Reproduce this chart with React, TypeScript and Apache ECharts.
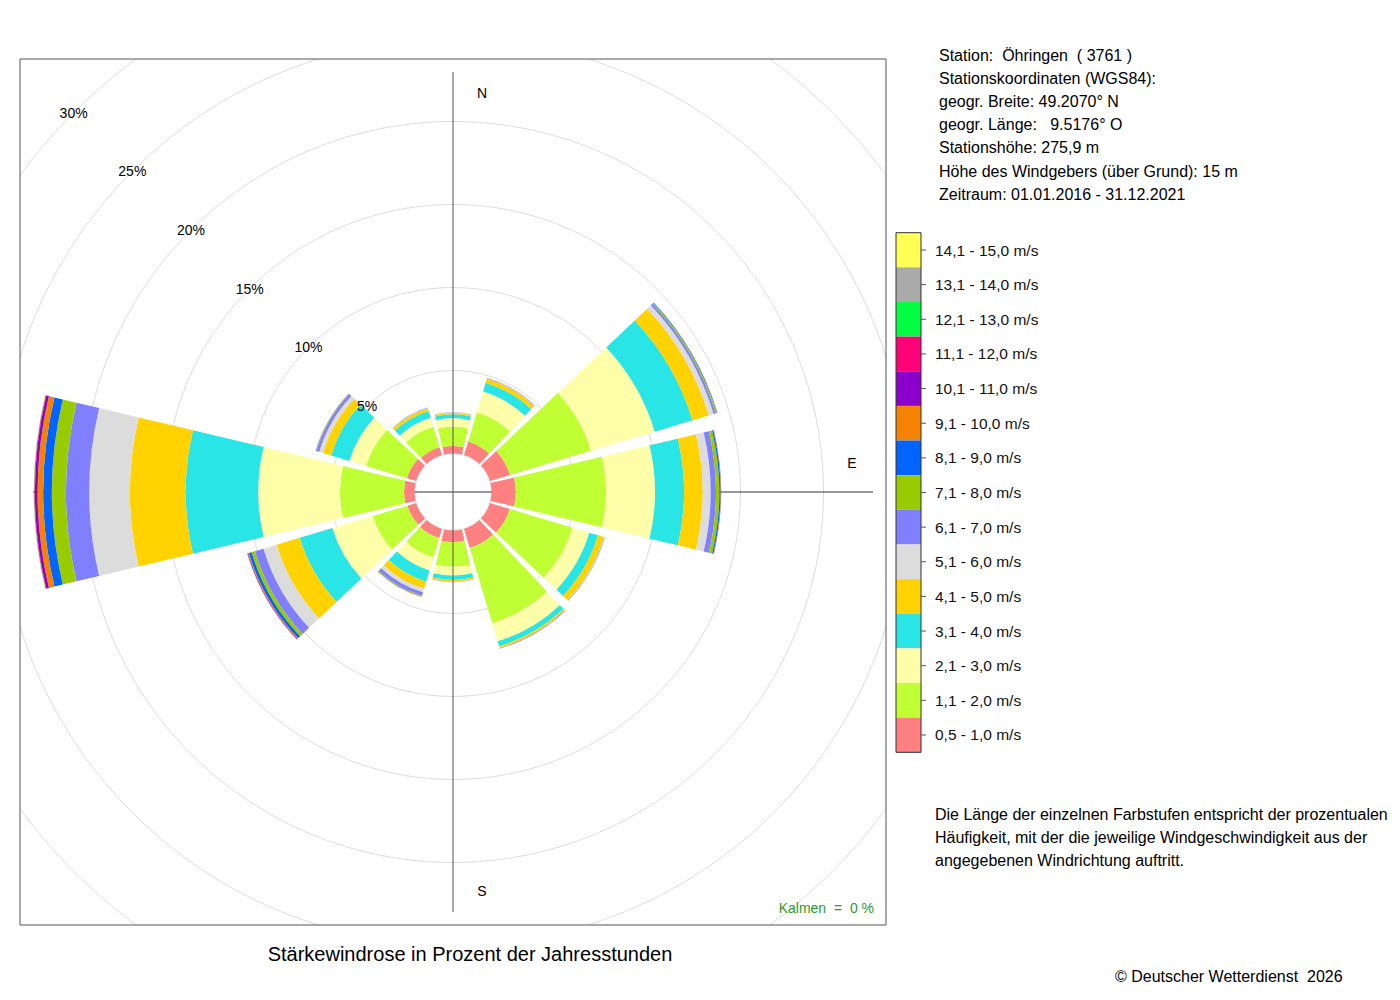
import React, { useEffect, useRef } from "react";
import * as echarts from "echarts";

// ---------- data ----------
const directions = ["N", "30°", "60°", "E", "120°", "150°", "S", "210°", "240°", "W", "300°", "330°"];

const speedClasses = [
  "0,5 - 1,0 m/s",
  "1,1 - 2,0 m/s",
  "2,1 - 3,0 m/s",
  "3,1 - 4,0 m/s",
  "4,1 - 5,0 m/s",
  "5,1 - 6,0 m/s",
  "6,1 - 7,0 m/s",
  "7,1 - 8,0 m/s",
  "8,1 - 9,0 m/s",
  "9,1 - 10,0 m/s",
  "10,1 - 11,0 m/s",
  "11,1 - 12,0 m/s",
  "12,1 - 13,0 m/s",
  "13,1 - 14,0 m/s",
  "14,1 - 15,0 m/s",
];

const classColors = [
  "#FF8080", "#BFFF33", "#FFFFAA", "#2AE5E5", "#FFD200",
  "#DCDCDC", "#8080FF", "#99CC00", "#0064FF", "#F58200",
  "#8C00CC", "#FF0078", "#00FF40", "#AAAAAA", "#FFFF55",
];

// percent of annual hours per direction (N, 30, 60, E, 120, 150, S, 210, 240, W, 300, 330)
const v05_10 = [0.45, 0.86, 1.27, 1.46, 1.25, 1.2, 0.7, 0.58, 0.55, 0.63, 0.58, 0.5];
const v11_20 = [1.17, 1.84, 5.09, 5.44, 3.95, 4.73, 1.48, 1.22, 2.18, 3.86, 2.57, 1.3];
const v21_30 = [0.51, 1.3, 4.01, 2.95, 1.05, 1.13, 0.53, 0.81, 2.54, 4.92, 1.05, 0.55];
const v31_40 = [0.23, 0.55, 2.37, 1.75, 0.55, 0.32, 0.27, 0.71, 2.05, 4.37, 1.15, 0.43];
const v41_50 = [0.1, 0.25, 1.03, 1.12, 0.36, 0.11, 0.1, 0.45, 1.45, 3.36, 0.51, 0.17];
const v51_60 = [0.01, 0.02, 0.3, 0.48, 0.03, 0.01, 0.02, 0.22, 0.83, 2.45, 0.24, 0.02];
const v61_70 = [0.01, 0.03, 0.13, 0.32, 0.03, 0.03, 0.02, 0.21, 0.54, 1.4, 0.16, 0.02];
const v71_80 = [0, 0.01, 0.07, 0.2, 0.01, 0, 0, 0.05, 0.21, 0.85, 0.03, 0];
const v81_90 = [0, 0, 0.03, 0.08, 0, 0, 0, 0.02, 0.17, 0.52, 0.02, 0];
const v91_100 = [0, 0, 0.01, 0.02, 0, 0, 0, 0.01, 0.05, 0.34, 0.01, 0];
const v101_110 = [0, 0, 0, 0.01, 0, 0, 0, 0, 0.03, 0.16, 0, 0];
const v111_120 = [0, 0, 0, 0, 0, 0, 0, 0, 0.02, 0.04, 0, 0];
const v121_130 = [0, 0, 0, 0, 0, 0, 0, 0, 0.01, 0.02, 0, 0];
const v131_140 = [0, 0, 0, 0, 0, 0, 0, 0, 0, 0.01, 0, 0];
const v141_150 = [0, 0, 0, 0, 0, 0, 0, 0, 0, 0.01, 0, 0];

const classValues = [
  v05_10, v11_20, v21_30, v31_40, v41_50, v51_60, v61_70, v71_80,
  v81_90, v91_100, v101_110, v111_120, v121_130, v131_140, v141_150,
];

const radiusMax = 30;
const radiusStep = 5;

const compassLabels = ["N", "E", "S"];
const calmText = "Kalmen  =  0 %";
const chartTitle = "Stärkewindrose in Prozent der Jahresstunden";
const infoLines = [
  "Station:  Öhringen  ( 3761 )",
  "Stationskoordinaten (WGS84):",
  "geogr. Breite: 49.2070° N",
  "geogr. Länge:   9.5176° O",
  "Stationshöhe: 275,9 m",
  "Höhe des Windgebers (über Grund): 15 m",
  "Zeitraum: 01.01.2016 - 31.12.2021",
];
const noteLines = [
  "Die Länge der einzelnen Farbstufen entspricht der prozentualen",
  "Häufigkeit, mit der die jeweilige Windgeschwindigkeit aus der",
  "angegebenen Windrichtung auftritt.",
];
const copyrightText = "© Deutscher Wetterdienst  2026";

// ---------- layout ----------
const FONT = '"Liberation Sans", Arial, Helvetica, sans-serif';
const CX = 453;
const CY = 492;
const R0 = 38.5;
const R1 = 536.5;
const AXIS_LEN = 420;
const FRAME = { x: 20, y: 59, w: 866, h: 866 };
const LEG = { x: 896, y: 232.7, w: 25, h: 34.64 };

export default function App() {
  const ref = useRef<HTMLDivElement | null>(null);

  useEffect(() => {
    if (!ref.current) return;
    const chart = echarts.init(ref.current, undefined, { renderer: "svg" });

    const series = speedClasses.map((name, i) => ({
      name,
      type: "bar",
      coordinateSystem: "polar",
      polarIndex: 0,
      stack: "total",
      data: classValues[i],
      barCategoryGap: "11%",
      itemStyle: { color: classColors[i], borderWidth: 0 },
      emphasis: { disabled: true },
      silent: true,
      z: 2,
    }));

    const hidden = {
      axisLine: { show: false },
      axisTick: { show: false },
      axisLabel: { show: false },
      splitLine: { show: false },
      splitArea: { show: false },
    };

    const nClasses = speedClasses.length;
    const legendOutline = {
      type: "rect",
      z: 12,
      shape: { x: LEG.x, y: LEG.y, width: LEG.w, height: LEG.h * nClasses },
      style: { fill: "none", stroke: "#333", lineWidth: 1 },
    };
    const legendTicks = speedClasses.map((_, i) => ({
      type: "line",
      z: 12,
      shape: {
        x1: LEG.x + LEG.w,
        y1: LEG.y + LEG.h * (i + 0.5),
        x2: LEG.x + LEG.w + 5,
        y2: LEG.y + LEG.h * (i + 0.5),
      },
      style: { stroke: "#555", lineWidth: 1 },
    }));

    const compassPos = [
      { x: CX + 29, y: CY - AXIS_LEN + 21 },
      { x: CX + AXIS_LEN - 21, y: CY - 29 },
      { x: CX + 29, y: CY + AXIS_LEN - 21 },
    ];

    const mask = (x: number, y: number, w: number, h: number) => ({
      type: "rect",
      z: 5,
      silent: true,
      shape: { x, y, width: w, height: h },
      style: { fill: "#fff" },
    });

    const text = (t: string, x: number, y: number, size: number, extra: any = {}) => ({
      type: "text",
      z: 12,
      silent: true,
      style: {
        text: t,
        x,
        y,
        fill: "#000",
        fontSize: size,
        fontFamily: FONT,
        align: "left",
        verticalAlign: "middle",
        ...extra,
      },
    });

    const option: any = {
      animation: false,
      backgroundColor: "#fff",
      polar: [
        { center: [CX, CY], radius: [R0, R1] },
        { center: [CX, CY], radius: [R0, R1] },
        { center: [CX, CY], radius: [0, AXIS_LEN] },
        { center: [CX, CY], radius: [0, AXIS_LEN] },
        { center: [CX, CY], radius: [R0, R1] },
      ],
      angleAxis: [
        {
          polarIndex: 0,
          type: "category",
          data: directions,
          startAngle: 105,
          clockwise: true,
          boundaryGap: true,
          ...hidden,
        },
        {
          polarIndex: 1,
          type: "value",
          min: 0,
          max: 360,
          startAngle: 135,
          ...hidden,
        },
        {
          polarIndex: 2,
          type: "value",
          min: 0,
          max: 360,
          interval: 180,
          startAngle: 0,
          z: 0,
          axisLine: { show: false },
          axisTick: { show: false },
          axisLabel: { show: false },
          splitLine: { show: true, lineStyle: { color: "#333", width: 1 } },
        },
        {
          polarIndex: 3,
          type: "value",
          min: 0,
          max: 360,
          interval: 180,
          startAngle: 90,
          z: 4,
          axisLine: { show: false },
          axisTick: { show: false },
          axisLabel: { show: false },
          splitLine: { show: true, lineStyle: { color: "#555", width: 1 } },
        },
        {
          polarIndex: 4,
          type: "value",
          min: 0,
          max: 360,
          startAngle: 135,
          ...hidden,
        },
      ],
      radiusAxis: [
        { polarIndex: 0, type: "value", min: 0, max: radiusMax, ...hidden },
        {
          polarIndex: 1,
          type: "value",
          min: 0,
          max: radiusMax,
          interval: radiusStep,
          z: 0,
          axisLine: { show: false },
          axisTick: { show: false },
          axisLabel: { show: false },
          splitLine: { show: true, lineStyle: { color: "#dddddd", width: 1 } },
        },
        { polarIndex: 2, type: "value", min: 0, max: 1, ...hidden },
        { polarIndex: 3, type: "value", min: 0, max: 1, ...hidden },
        {
          polarIndex: 4,
          type: "value",
          min: 0,
          max: radiusMax,
          interval: radiusStep,
          z: 4,
          axisLine: { show: false },
          axisTick: { show: false },
          splitLine: { show: false },
          axisLabel: {
            show: true,
            margin: 0,
            align: "center",
            verticalAlign: "middle",
            fontSize: 14,
            fontFamily: FONT,
            color: "#000",
            formatter: (v: number) => (v === 0 ? "" : v + "%"),
          },
        },
      ],
      legend: {
        show: true,
        orient: "vertical",
        left: LEG.x,
        top: LEG.y,
        itemWidth: LEG.w,
        itemHeight: LEG.h,
        itemGap: 0,
        icon: "rect",
        selectedMode: false,
        z: 10,
        padding: 0,
        data: [...speedClasses].reverse(),
        textStyle: {
          fontSize: 15.5,
          fontFamily: FONT,
          color: "#111",
          padding: [0, 0, 0, 9],
        },
        itemStyle: { borderWidth: 0 },
      },
      series,
      graphic: [
        mask(0, 0, FRAME.x, 1000),
        mask(0, 0, 1400, FRAME.y),
        mask(FRAME.x + FRAME.w, 0, 1400 - FRAME.x - FRAME.w, 1000),
        mask(0, FRAME.y + FRAME.h, 1400, 1000 - FRAME.y - FRAME.h),
        {
          type: "rect",
          z: 6,
          silent: true,
          shape: { x: FRAME.x, y: FRAME.y, width: FRAME.w, height: FRAME.h },
          style: { fill: "none", stroke: "#555", lineWidth: 1 },
        },
        ...compassLabels.map((t, i) =>
          text(t, compassPos[i].x, compassPos[i].y, 14, { align: "center" })
        ),
        text(calmText, 874, 908, 14, { align: "right", fill: "#2f9a2f" }),
        text(chartTitle, 470, 954, 20, { align: "center" }),
        ...infoLines.map((t, i) => text(t, 939, 55 + i * 23.2, 16)),
        ...noteLines.map((t, i) => text(t, 935, 814 + i * 23, 16)),
        text(copyrightText, 1115, 976, 16),
        legendOutline,
        ...legendTicks,
      ],
    };

    chart.setOption(option);
    return () => chart.dispose();
  }, []);

  return (
    <div
      ref={ref}
      style={{ position: "fixed", left: 0, top: 0, width: 1400, height: 1000, background: "#fff" }}
    />
  );
}
